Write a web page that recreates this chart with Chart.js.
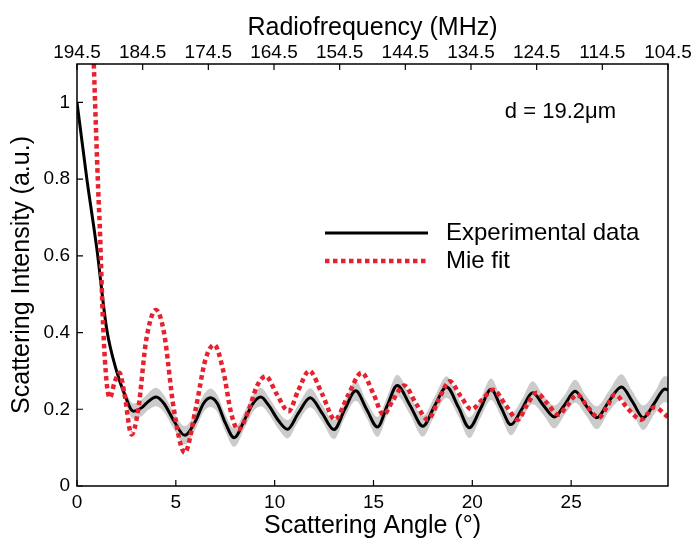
<!DOCTYPE html>
<html>
<head>
<meta charset="utf-8">
<script src="https://cdn.jsdelivr.net/npm/chart.js@4.4.1/dist/chart.umd.min.js"></script>
<style>
  body { margin: 0; background: #fff; }
  #wrap { width: 695px; height: 546px; }
</style>
</head>
<body>
<div id="wrap"><canvas id="scatterChart" width="695" height="546"></canvas></div>
<script>
// experimental scattering curve (angle in degrees, intensity in a.u.)
const expAngle = [0, 0.5, 1.0, 1.5, 2.0, 2.4, 2.85, 3.3, 3.6, 4.0,
    4.4, 4.9, 5.45, 6.0, 6.4, 6.75, 7.1, 7.5, 7.95, 8.5,
    8.9, 9.3, 9.7, 10.2, 10.65, 11.2, 11.8, 12.4, 13.0, 13.55,
    14.1, 14.65, 15.2, 15.7, 16.2, 16.85, 17.5, 18.1, 18.7, 19.3,
    19.85, 20.4, 20.95, 21.45, 21.95, 22.5, 23.05, 23.6, 24.15, 24.65,
    25.2, 25.75, 26.3, 26.9, 27.55, 28.1, 28.65, 29.2, 29.75, 29.9];
const expValue = [1.0, 0.80, 0.62, 0.41, 0.30, 0.24, 0.195, 0.205, 0.22, 0.232,
    0.215, 0.17, 0.132, 0.17, 0.215, 0.23, 0.215, 0.165, 0.126, 0.175,
    0.215, 0.232, 0.21, 0.17, 0.148, 0.19, 0.23, 0.19, 0.147, 0.2,
    0.248, 0.2, 0.154, 0.21, 0.262, 0.21, 0.156, 0.21, 0.258, 0.205,
    0.152, 0.2, 0.252, 0.205, 0.16, 0.2, 0.243, 0.21, 0.18, 0.21,
    0.247, 0.21, 0.178, 0.22, 0.258, 0.22, 0.178, 0.215, 0.253, 0.25];
// half width of the grey error band
const expErr = [0.008, 0.008, 0.008, 0.008, 0.01, 0.015, 0.02, 0.022, 0.022, 0.024,
    0.022, 0.022, 0.024, 0.022, 0.022, 0.024, 0.022, 0.022, 0.024, 0.022,
    0.022, 0.024, 0.022, 0.022, 0.024, 0.022, 0.025, 0.022, 0.025, 0.022,
    0.026, 0.022, 0.026, 0.024, 0.028, 0.024, 0.027, 0.024, 0.028, 0.024,
    0.027, 0.024, 0.028, 0.024, 0.028, 0.025, 0.03, 0.025, 0.03, 0.026,
    0.03, 0.026, 0.03, 0.027, 0.033, 0.027, 0.032, 0.028, 0.034, 0.034];

// Mie theory fit
const mieAngle = [0.7, 0.85, 1.07, 1.15, 1.32, 1.5, 1.66, 1.9, 2.15, 2.4,
    2.76, 3.1, 3.5, 4.0, 4.4, 4.9, 5.45, 6.0, 6.5, 6.95,
    7.4, 7.8, 8.15, 8.7, 9.1, 9.55, 10.1, 10.7, 11.2, 11.75,
    12.4, 13.05, 13.7, 14.4, 15.0, 15.5, 16.0, 16.55, 17.15, 17.75,
    18.3, 18.85, 19.4, 19.95, 20.5, 21.05, 21.7, 22.3, 22.75, 23.25,
    23.8, 24.35, 24.8, 25.3, 25.85, 26.4, 26.8, 27.2, 27.9, 28.55,
    28.9, 29.2, 29.9];
const mieValue = [1.35, 1.1, 0.775, 0.68, 0.42, 0.27, 0.23, 0.27, 0.295, 0.24,
    0.134, 0.2, 0.38, 0.459, 0.4, 0.2, 0.087, 0.2, 0.33, 0.368,
    0.3, 0.19, 0.147, 0.2, 0.26, 0.286, 0.24, 0.195, 0.25, 0.30,
    0.24, 0.173, 0.235, 0.295, 0.24, 0.186, 0.225, 0.262, 0.215, 0.173,
    0.225, 0.273, 0.235, 0.2, 0.225, 0.251, 0.21, 0.173, 0.21, 0.243,
    0.215, 0.186, 0.21, 0.238, 0.205, 0.178, 0.205, 0.238, 0.2, 0.173,
    0.19, 0.205, 0.18];

// tick labels
const angleTicks = [0, 5, 10, 15, 20, 25];
const freqTicks = [194.5, 184.5, 174.5, 164.5, 154.5, 144.5, 134.5, 124.5, 114.5, 104.5];
const intensityTicks = [0, 0.2, 0.4, 0.6, 0.8, 1];

const FONT = "'Liberation Sans', Arial, Helvetica, sans-serif";
const RED = '#e8212e';

Chart.defaults.font.family = FONT;
Chart.defaults.color = '#000';

const pts = (xs, ys) => xs.map((x, i) => ({ x: x, y: ys[i] }));

// frame, inward tick marks, legend and the size note
const decorations = {
    id: 'decorations',
    afterDraw(chart) {
        const ctx = chart.ctx;
        const a = chart.chartArea;
        const sx = chart.scales.x, sx2 = chart.scales.x2, sy = chart.scales.y;
        ctx.save();
        ctx.strokeStyle = '#000';
        ctx.lineWidth = 1.5;
        ctx.strokeRect(a.left, a.top, a.right - a.left, a.bottom - a.top);

        ctx.lineWidth = 1.2;
        ctx.beginPath();
        angleTicks.forEach(v => {
            const px = sx.getPixelForValue(v);
            ctx.moveTo(px, a.bottom); ctx.lineTo(px, a.bottom - 6);
        });
        freqTicks.forEach(v => {
            const px = sx2.getPixelForValue(v);
            ctx.moveTo(px, a.top); ctx.lineTo(px, a.top + 6);
        });
        intensityTicks.forEach(v => {
            const py = sy.getPixelForValue(v);
            ctx.moveTo(a.left, py); ctx.lineTo(a.left + 6, py);
        });
        ctx.stroke();

        // legend
        ctx.lineWidth = 3;
        ctx.strokeStyle = '#000';
        ctx.beginPath(); ctx.moveTo(325, 233); ctx.lineTo(428, 233); ctx.stroke();
        ctx.strokeStyle = RED;
        ctx.lineWidth = 4.5;
        ctx.setLineDash([4.5, 3.5]);
        ctx.beginPath(); ctx.moveTo(325, 261); ctx.lineTo(428, 261); ctx.stroke();
        ctx.setLineDash([]);

        ctx.fillStyle = '#000';
        ctx.font = '24px ' + FONT;
        ctx.textBaseline = 'middle';
        ctx.textAlign = 'left';
        ctx.fillText('Experimental data', 446, 233);
        ctx.fillText('Mie fit', 446, 261);

        ctx.font = '22px ' + FONT;
        ctx.textAlign = 'right';
        ctx.fillText('d = 19.2\u03bcm', 616, 112);
        ctx.restore();
    }
};

new Chart(document.getElementById('scatterChart'), {
    type: 'line',
    data: {
        datasets: [
            {
                label: 'Mie fit',
                data: pts(mieAngle, mieValue),
                borderColor: RED,
                borderWidth: 4.5,
                borderDash: [4.5, 3.5],
                pointRadius: 0,
                cubicInterpolationMode: 'monotone',
                fill: false,
                clip: 0
            },
            {
                label: 'Experimental data',
                data: pts(expAngle, expValue),
                borderColor: '#000',
                borderWidth: 3,
                pointRadius: 0,
                cubicInterpolationMode: 'monotone',
                fill: false
            },
            {
                label: 'upper',
                data: pts(expAngle, expValue.map((v, i) => v + expErr[i])),
                borderWidth: 0,
                borderColor: 'rgba(0,0,0,0)',
                pointRadius: 0,
                cubicInterpolationMode: 'monotone',
                fill: false
            },
            {
                label: 'lower',
                data: pts(expAngle, expValue.map((v, i) => v - expErr[i])),
                borderWidth: 0,
                borderColor: 'rgba(0,0,0,0)',
                backgroundColor: 'rgba(185,185,185,0.75)',
                pointRadius: 0,
                cubicInterpolationMode: 'monotone',
                fill: '-1'
            }
        ]
    },
    options: {
        responsive: false,
        animation: false,
        layout: { padding: { left: 0, right: 27, top: 0, bottom: 0 } },
        plugins: {
            legend: { display: false },
            tooltip: { enabled: false }
        },
        scales: {
            x: {
                type: 'linear',
                position: 'bottom',
                min: 0,
                max: 29.9,
                afterBuildTicks: s => { s.ticks = angleTicks.map(v => ({ value: v })); },
                afterFit: s => { s.height = 60; },
                grid: { display: false, drawTicks: false },
                border: { display: false },
                ticks: { font: { size: 19 }, color: '#000', padding: 5, maxRotation: 0, autoSkip: false,
                    callback: v => String(v) },
                title: { display: true, text: 'Scattering Angle (\u00b0)', font: { size: 25 }, color: '#000',
                    padding: { top: 0, bottom: 5 } }
            },
            x2: {
                type: 'linear',
                position: 'top',
                min: 104.5,
                max: 194.5,
                reverse: true,
                afterBuildTicks: s => { s.ticks = freqTicks.map(v => ({ value: v })); },
                afterFit: s => { s.height = 64; },
                grid: { display: false, drawTicks: false },
                border: { display: false },
                ticks: { font: { size: 19 }, color: '#000', padding: 0, maxRotation: 0, autoSkip: false,
                    callback: v => v.toFixed(1) },
                title: { display: true, text: 'Radiofrequency (MHz)', font: { size: 25 }, color: '#000',
                    padding: { top: 13, bottom: 0 } }
            },
            y: {
                min: 0,
                max: 1.1,
                afterBuildTicks: s => { s.ticks = intensityTicks.map(v => ({ value: v })); },
                afterFit: s => { s.width = 77; },
                grid: { display: false, drawTicks: false },
                border: { display: false },
                ticks: { font: { size: 19 }, color: '#000', padding: 7, autoSkip: false,
                    callback: v => String(v) },
                title: { display: true, text: 'Scattering Intensity (a.u.)', font: { size: 25 }, color: '#000',
                    padding: { top: 7, bottom: 0 } }
            }
        }
    },
    plugins: [decorations]
});
</script>
</body>
</html>
